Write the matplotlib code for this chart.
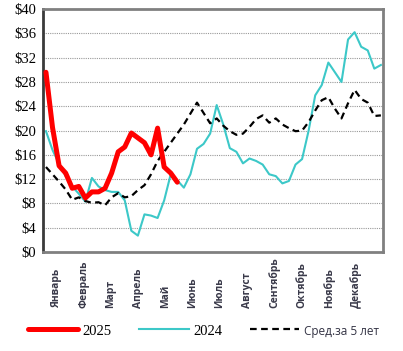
import numpy as np
import matplotlib
matplotlib.use('Agg')
import matplotlib.pyplot as plt
from matplotlib.transforms import blended_transform_factory

# weekly prices, $
y2025 = [29.6, 20.5, 14.2, 13.0, 10.5, 10.8, 8.9, 9.9, 9.9, 10.5, 13.0,
         16.5, 17.3, 19.6, 18.8, 18.0, 16.0, 20.4, 14.0, 13.0, 11.5]
y2024 = [19.9, 16.8, 14.5, 12.5, 10.8, 9.6, 8.3, 12.2, 10.8, 10.2, 9.9,
         9.9, 8.5, 3.5, 2.7, 6.2, 6.0, 5.6, 8.5, 12.8, 11.8, 10.6, 12.8,
         17.0, 17.8, 19.5, 24.2, 21.0, 17.1, 16.5, 14.6, 15.4, 15.0, 14.4,
         12.8, 12.5, 11.3, 11.7, 14.4, 15.3, 20.0, 25.8, 27.5, 31.2, 29.6,
         28.0, 35.0, 36.2, 33.8, 33.2, 30.2, 30.8]
avg5 = [14.0, 12.8, 11.6, 10.3, 8.6, 9.0, 8.4, 8.1, 8.2, 7.7, 9.0,
        9.7, 9.0, 9.2, 10.2, 11.0, 12.8, 15.0, 16.5, 18.0, 19.5, 21.0,
        22.8, 24.6, 22.9, 21.2, 22.0, 20.8, 19.9, 19.3, 19.5, 20.6, 21.9,
        22.5, 21.3, 22.0, 21.0, 20.4, 19.9, 20.0, 21.4, 23.3, 25.0, 25.5,
        23.6, 22.0, 24.5, 26.7, 25.2, 24.6, 22.4, 22.5]
months = ['Январь', 'Февраль', 'Март', 'Апрель', 'Май', 'Июнь', 'Июль',
          'Август', 'Сентябрь', 'Октябрь', 'Ноябрь', 'Декабрь']
yticks = list(range(0, 41, 4))

fig = plt.figure(figsize=(4.03, 3.51), dpi=100)
ax = fig.add_axes([0.1067, 0.282, 0.8433, 0.692])

ax.plot(range(len(avg5)), avg5, color='black', lw=1.6, ls=(0, (3, 2)),
        label='Сред.за 5 лет', zorder=3)
ax.plot(range(len(y2024)), y2024, color='#3cc8c8', lw=1.5, label='2024',
        solid_joinstyle='round', zorder=2)
ax.plot(range(len(y2025)), y2025, color='#ff0000', lw=3.6, label='2025',
        solid_joinstyle='round', solid_capstyle='round', zorder=4)

ax.set_xlim(-0.45, 51.3)
ax.set_ylim(0, 40)
ax.set_yticks(yticks)
ax.set_yticklabels(['$%d' % v for v in yticks], family='Liberation Serif', fontsize=10.5)
ax.tick_params(axis='y', length=0, pad=5)
ax.set_xticks([])
ax.grid(axis='y', color='#999999', ls=(0, (1, 1)), lw=0.8)
ax.set_axisbelow(True)

ax.spines['left'].set_color('#3a3a3a')
ax.spines['left'].set_linewidth(2)
for s in ['top', 'right', 'bottom']:
    ax.spines[s].set_color('#808080')
    ax.spines[s].set_linewidth(2)

trans = blended_transform_factory(ax.transData, ax.transAxes)
for i, m in enumerate(months):
    ax.text(1.6 + 4.15 * i, -0.23, m, rotation=90, ha='center', va='bottom',
            transform=trans, fontsize=7.5, family='Open Sans',
            fontweight='bold', color='#3a3a4a')

h, l = ax.get_legend_handles_labels()
order = [2, 1, 0]
leg = fig.legend([h[i] for i in order], [l[i] for i in order], loc='center',
                 bbox_to_anchor=(0.505, 0.057), ncol=3, frameon=False,
                 handlelength=3.4, handletextpad=0.3, columnspacing=1.9,
                 prop={'family': 'Liberation Serif', 'size': 10.5})
txt = leg.get_texts()
txt[2].set_fontfamily('Open Sans')
txt[2].set_fontsize(8.5)
txt[2].set_color('#333344')

fig.savefig('out.png', dpi=100)
